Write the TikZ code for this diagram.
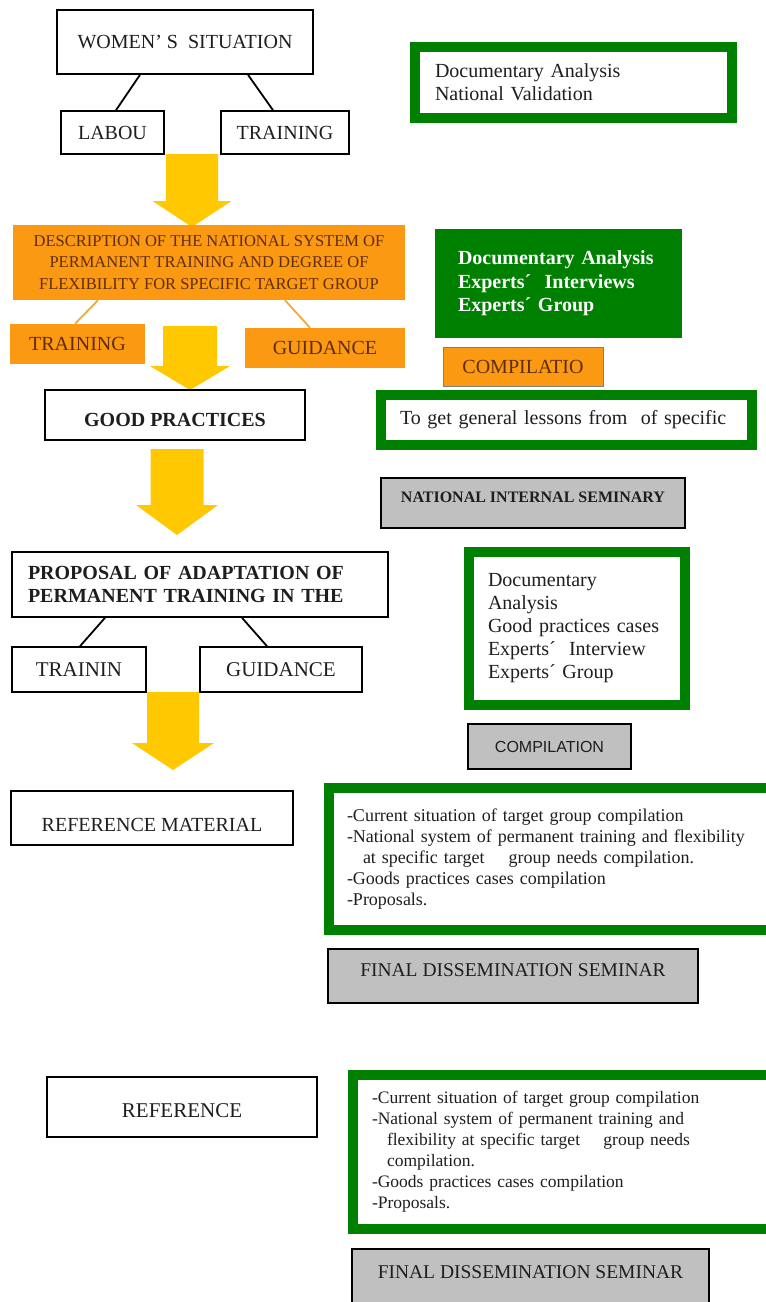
\documentclass[tikz,border=0pt]{standalone}
\usepackage{fontspec}
\setmainfont{Liberation Serif}
\newfontfamily\arialf{Liberation Sans}
\usetikzlibrary{calc}
\definecolor{dgreen}{RGB}{0,128,0}
\definecolor{orng}{RGB}{252,153,18}
\definecolor{oline}{RGB}{240,170,60}
\definecolor{otxt}{RGB}{95,45,10}
\definecolor{yel}{RGB}{255,200,0}
\definecolor{lgray}{RGB}{192,192,192}
\definecolor{txt}{RGB}{30,30,30}
\newcommand\yarrow[6]{\fill[yel] (#1-#3,#2) -- (#1+#3,#2) -- (#1+#3,#5) -- (#1+#4,#5) -- (#1,#6) -- (#1-#4,#5) -- (#1-#3,#5) -- cycle;}
\tikzset{
  bx/.style={draw=black, line width=1.6pt, fill=white, inner sep=0pt, text=txt, font=\fontsize{20}{23}\selectfont},
  obx/.style={fill=orng, inner sep=0pt, text=otxt, font=\fontsize{20}{23}\selectfont},
  gbx/.style={draw=dgreen, line width=10pt, fill=white, inner sep=0pt, text=txt, align=left, font=\fontsize{20}{23}\selectfont},
  graybx/.style={draw=black, line width=1.6pt, fill=lgray, inner sep=0pt, text=txt},
  conn/.style={line width=1.8pt, black},
  oconn/.style={line width=1.8pt, oline},
}
\begin{document}
\begin{tikzpicture}[x=1pt, y=-1pt]
\useasboundingbox (0,0) rectangle (766,1302);
\clip (0,0) rectangle (766,1302);
\fill[white] (0,0) rectangle (766,1302);

% ---- top block
\node[bx, minimum width=256, minimum height=64] (women) at (185,42) {WOMEN’ S\ \ SITUATION};
\node[bx, minimum width=103, minimum height=43] (labou) at (112.5,132.5) {LABOU};
\node[bx, minimum width=128, minimum height=43] (train1) at (285,132.5) {TRAINING};
\draw[conn] ($(women.south)+(-45,0)$) -- ($(labou.north)+(3.5,0)$);
\draw[conn] ($(women.south)+(63,0)$) -- ($(train1.north)+(-12,0)$);

\yarrow{192}{154}{26}{39.5}{201}{227}

% ---- orange block
\node[obx, minimum width=392, minimum height=75, align=center, font=\fontsize{16.5}{21.5}\selectfont] (desc) at (209,262.5)
  {DESCRIPTION OF THE NATIONAL SYSTEM OF\\PERMANENT TRAINING AND DEGREE OF\\FLEXIBILITY FOR SPECIFIC TARGET GROUP};
\node[obx, minimum width=135, minimum height=40] (train2) at (77.5,344) {TRAINING};
\node[obx, minimum width=160, minimum height=40] (guid2) at (325,348) {GUIDANCE};
\draw[oconn] ($(desc.south)+(-111,0)$) -- ($(train2.north)+(-2.5,0)$);
\draw[oconn] ($(desc.south)+(76,0)$) -- ($(guid2.north)+(-15,0)$);

\yarrow{190}{326}{27}{40}{366}{390}

\node[bx, minimum width=260, minimum height=50, text height=36pt, text depth=14pt, font=\bfseries\fontsize{20}{23}\selectfont] (good) at (175,415) {GOOD PRACTICES};

\yarrow{177}{449}{26.5}{41}{505}{535}

% ---- proposal block
\node[bx, minimum width=376, minimum height=65, text width=344, align=left, font=\bfseries\fontsize{20}{23}\selectfont] (prop) at (200,584.5)
  {PROPOSAL OF ADAPTATION OF\\PERMANENT TRAINING IN THE};
\node[bx, minimum width=134, minimum height=45, font=\fontsize{21}{24}\selectfont] (train3) at (79,669.5) {TRAININ};
\node[bx, minimum width=162, minimum height=45, font=\fontsize{21}{24}\selectfont] (guid3) at (281,669.5) {GUIDANCE};
\draw[conn] ($(prop.south)+(-95,0)$) -- ($(train3.north)+(1,0)$);
\draw[conn] ($(prop.south)+(42,0)$) -- ($(guid3.north)+(-14,0)$);

\yarrow{173}{692}{26}{41}{743}{770}

% ---- reference blocks
\node[bx, minimum width=282, minimum height=54, text height=40.6pt, text depth=13.4pt] (refmat) at (152,818) {REFERENCE MATERIAL};
\node[bx, minimum width=270, minimum height=60, text height=40pt, text depth=20pt, font=\fontsize{21}{24}\selectfont] (ref2) at (182,1107) {REFERENCE};

% ---- right column
\node[gbx, minimum width=317.5, minimum height=71, text width=276.5] (g1) at (573.25,82.5)
  {Documentary Analysis\\National Validation};
\node[fill=dgreen, minimum width=247, minimum height=109, inner sep=0pt, text width=201, align=left, text=white,
  font=\bfseries\fontsize{20}{23.5}\selectfont] (gf) at (558.5,283.5)
  {Documentary Analysis\\Experts´\ \ Interviews\\Experts´ Group};
\node[fill=orng, draw=gray, line width=1pt, minimum width=160, minimum height=39, inner sep=0pt, text=otxt,
  font=\fontsize{20}{23}\selectfont] (compo) at (523,366.5) {COMPILATIO};
\node[gbx, minimum width=371, minimum height=49.5, text width=333] (g2) at (566.5,419.75)
  {To get general lessons from\ \ of specific};
\node[graybx, minimum width=304, minimum height=50, text height=24pt, text depth=26pt,
  font=\bfseries\fontsize{16}{19}\selectfont] (nis) at (533,503) {NATIONAL INTERNAL SEMINARY};
\node[gbx, minimum width=215.5, minimum height=153, text width=177.5] (g3) at (576.75,628.5)
  {Documentary\\Analysis\\Good practices cases\\Experts´\ \ Interview\\Experts´ Group};
\node[graybx, minimum width=163, minimum height=45, font=\arialf\fontsize{16}{19}\selectfont] (comp) at (549.5,746.5) {COMPILATION};
\node[gbx, minimum width=446, minimum height=142.5, text width=410, font=\fontsize{18}{21}\selectfont] (g4) at (552,858.75)
  {-Current situation of target group compilation\\
   -National system of permanent training and flexibility\\
   \hspace*{16pt}at specific target\ \ \ \ group needs compilation.\\
   -Goods practices cases compilation\\
   -Proposals.};
\node[graybx, minimum width=370, minimum height=54, text height=27.5pt, text depth=26.5pt,
  font=\fontsize{19.5}{23}\selectfont] (final1) at (513,976) {FINAL DISSEMINATION SEMINAR};
\node[gbx, minimum width=422, minimum height=154.5, text width=384, font=\fontsize{17.5}{21}\selectfont] (g5) at (564,1151.75)
  {-Current situation of target group compilation\\
   -National system of permanent training and\\
   \hspace*{15pt}flexibility at specific target\ \ \ \ group needs\\
   \hspace*{15pt}compilation.\\
   -Goods practices cases compilation\\
   -Proposals.};
\node[graybx, minimum width=357, minimum height=80, text height=29.5pt, text depth=50.5pt,
  font=\fontsize{19.5}{23}\selectfont] (final2) at (530.5,1289) {FINAL DISSEMINATION SEMINAR};
\end{tikzpicture}
\end{document}
